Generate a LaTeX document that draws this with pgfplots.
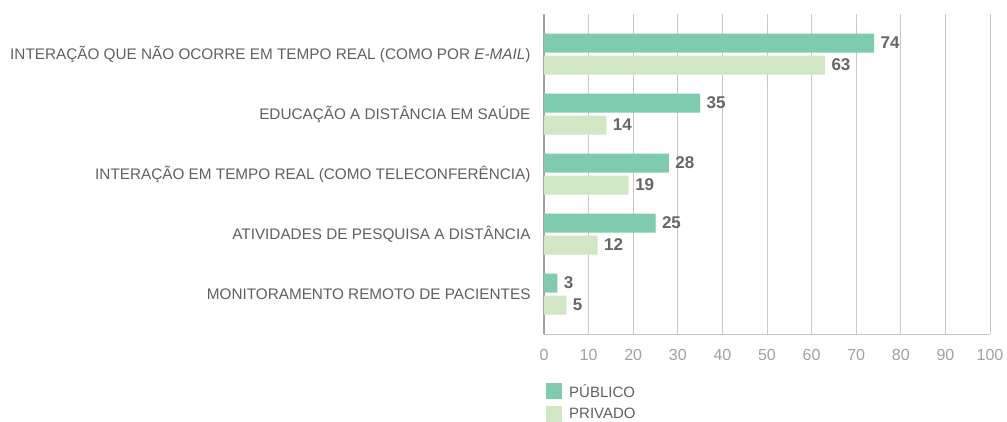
\documentclass[border=0pt]{standalone}
\usepackage{fontspec}
\setmainfont{Liberation Sans}
\usepackage{pgfplots}
\pgfplotsset{compat=1.18}
\definecolor{pub}{HTML}{7ECBAE}
\definecolor{priv}{HTML}{D1E7C3}
\definecolor{gridc}{HTML}{C8C8C8}
\definecolor{axc}{HTML}{A0A0A0}
\definecolor{labc}{HTML}{606060}
\definecolor{tickc}{HTML}{A0A0A0}
\definecolor{numc}{HTML}{666666}
\begin{document}
\begin{tikzpicture}[x=1pt,y=1pt]
\useasboundingbox (0,0) rectangle (1007,421);
\begin{axis}[
  at={(544pt,87pt)}, anchor=south west,
  width=446pt, height=320pt, scale only axis,
  xmin=0, xmax=100, ymin=-0.6667, ymax=4.6667,
  y dir=reverse,
  xtick={0,10,...,100},
  ytick={0,1,2,3,4},
  yticklabels={INTERAÇÃO QUE NÃO OCORRE EM TEMPO REAL (COMO POR \textit{E-MAIL}),
    EDUCAÇÃO A DISTÂNCIA EM SAÚDE,
    INTERAÇÃO EM TEMPO REAL (COMO TELECONFERÊNCIA),
    ATIVIDADES DE PESQUISA A DISTÂNCIA,
    MONITORAMENTO REMOTO DE PACIENTES},
  axis x line=bottom, axis y line=left,
  x axis line style={-, draw=gridc, line width=1pt},
  y axis line style={-, draw=axc, line width=1.5pt},
  xmajorgrids, major grid style={draw=gridc, line width=1pt},
  major tick length=0pt,
  /pgf/number format/assume math mode=true,
  xticklabel style={font=\fontsize{16}{19}\selectfont, text=tickc, yshift=-12pt},
  yticklabel style={font=\fontsize{15.3}{18}\selectfont, text=labc, xshift=-10pt},
  xbar, bar width=19pt,
  nodes near coords,
  nodes near coords style={font=\fontsize{17}{20}\selectfont\bfseries, text=numc, anchor=west, xshift=3pt},
  legend style={at={(0,0)}, anchor=north west, xshift=2pt, yshift=-48pt, draw=none, fill=none,
    font=\fontsize{15}{18}\selectfont, text=labc, row sep=5pt, column sep=5pt, inner sep=0pt},
  legend cell align=left,
  legend image code/.code={\fill[#1] (0pt,-8pt) rectangle (16pt,8pt);},
  clip=false,
]
\addplot[fill=pub, draw=none, bar shift=11pt] coordinates {(74,0) (35,1) (28,2) (25,3) (3,4)};
\addlegendentry{PÚBLICO}
\addplot[fill=priv, draw=none, bar shift=-11pt] coordinates {(63,0) (14,1) (19,2) (12,3) (5,4)};
\addlegendentry{PRIVADO}
\end{axis}
\end{tikzpicture}
\end{document}
